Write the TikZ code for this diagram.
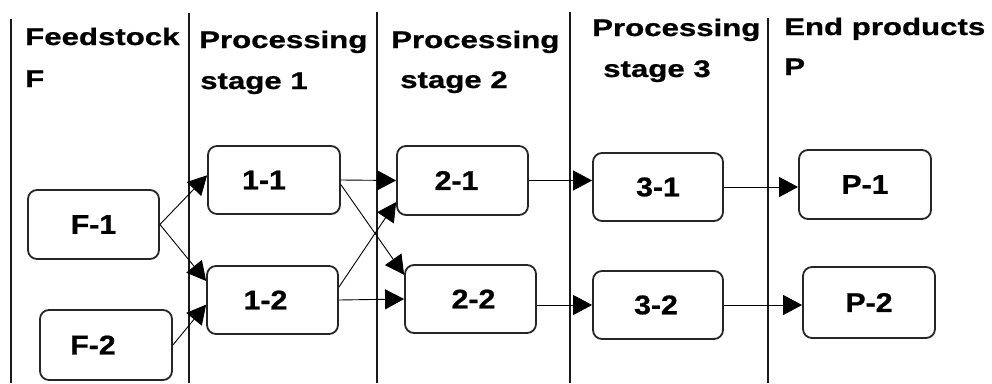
\documentclass[tikz,border=0pt]{standalone}
\usepackage{fontspec}
\setmainfont{Liberation Sans}
\newfontfamily\hdrfont[FakeStretch=1.3,FakeBold=0.8]{Liberation Sans}
\newfontfamily\boxfont[FakeStretch=1.12,FakeBold=0.8]{Liberation Sans}
\usetikzlibrary{arrows.meta}
\newcommand\offx[2]{\kern#1#2\kern-#1}
\begin{document}
\begin{tikzpicture}[x=1pt,y=-1pt,
  box/.style={draw=black!85, line width=1.8pt, rounded corners=9pt, inner sep=0pt,
    minimum width=131pt, minimum height=68pt, fill=white,
    font=\boxfont\bfseries\fontsize{27}{27}\selectfont},
  hdr/.style={anchor=base west, inner sep=0pt,
    font=\hdrfont\bfseries\fontsize{24}{24}\selectfont},
  conn/.style={line width=0.9pt, -{Triangle[length=19pt,width=20pt]}},
  lane/.style={line width=2pt, draw=black!90}]
\useasboundingbox (0,0) rectangle (992,383);
% lane separators
\draw[lane] (11,19) -- (11,383);
\draw[lane] (189,13) -- (189,383);
\draw[lane] (377,12) -- (377,383);
\draw[lane] (570,12) -- (570,383);
\draw[lane] (768,18) -- (768,383);
% headers
\node[hdr] (h0a) at (25,45) {Feedstock};
\node[hdr] (h0b) at (25,87) {F};
\node[hdr] (h1a) at (199,48) {Processing};
\node[hdr] (h1b) at (200,89) {stage 1};
\node[hdr] (h2a) at (391,48) {Processing};
\node[hdr] (h2b) at (400,88) {stage 2};
\node[hdr] (h3a) at (592,36) {Processing};
\node[hdr] (h3b) at (603,77) {stage 3};
\node[hdr] (h4a) at (784,35) {End products};
\node[hdr] (h4b) at (784,75) {P};
% boxes
\node[box, minimum height=69pt] (f1) at (93.5,224.5) {F-1};
\node[box, minimum width=132pt, minimum height=70pt] (f2) at (106,345) {\offx{-13pt}{F-2}};
\node[box, minimum width=132pt] (n11) at (274,180) {\offx{-10pt}{1-1}};
\node[box] (n12) at (272.5,300) {\offx{-7pt}{1-2}};
\node[box, minimum height=69pt] (n21) at (462.5,180.5) {\offx{-6pt}{2-1}};
\node[box] (n22) at (470.5,299) {\offx{3pt}{2-2}};
\node[box, minimum width=130pt] (n31) at (658,187) {3-1};
\node[box, minimum width=130pt] (n32) at (658,305) {\offx{-2pt}{3-2}};
\node[box, minimum width=132pt, minimum height=69pt] (p1) at (865,184.5) {P-1};
\node[box, minimum width=132pt, minimum height=71pt] (p2) at (869,302.5) {P-2};
% connectors
\draw[conn] (f1.east) -- (n11.176);
\draw[conn] (f1.east) -- (n12.164);
\draw[conn] (f2.east) -- (n12.184);
\draw[conn] (n11.east) -- (n21.west);
\draw[conn] (n11.-4) -- (n22.160);
\draw[conn] (n12.11) -- (n21.198);
\draw[conn] (n12.east) -- (n22.west);
\draw[conn] (n21.east) -- (n21.east -| n31.west);
\draw[conn] (n22.east |- n32.west) -- (n32.west);
\draw[conn] (n31.east) -- (n31.east -| p1.west);
\draw[conn] (n32.east) -- (n32.east -| p2.west);
\end{tikzpicture}
\end{document}
